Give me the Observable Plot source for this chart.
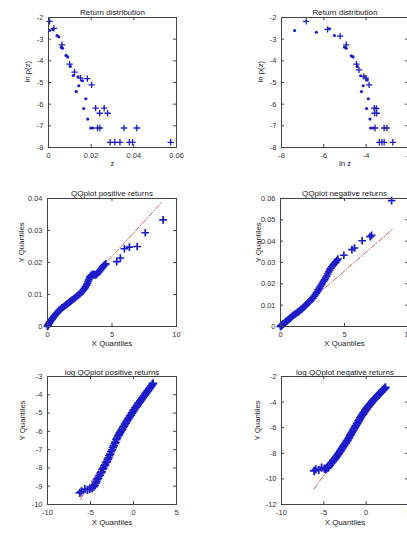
<!DOCTYPE html>
<html><head><meta charset="utf-8">
<script src="https://cdn.jsdelivr.net/npm/d3@7"></script>
<script src="https://cdn.jsdelivr.net/npm/@observablehq/plot@0.6"></script>
<style>
html,body{margin:0;padding:0;overflow:hidden;background:#fff;width:407px;height:537px}
#root{position:relative;width:407px;height:537px;overflow:hidden}
</style></head><body><div id="root"></div>
<script>
// ---------- Panel 1: Return distribution (z vs ln p(z)) ----------
const p1DotZ   = [0.0005,0.002,0.004,0.0048,0.006,0.0066,0.0082,0.009,0.0102,0.0116,0.0138,0.0159,0.0142,0.013,0.0175,0.0165,0.0184,0.0198,0.0207];
const p1DotLnP = [-2.6,-2.55,-2.83,-2.89,-3.38,-3.42,-3.75,-3.82,-4.26,-4.68,-4.74,-4.92,-5.15,-5.42,-5.75,-6.2,-6.69,-7.1,-7.1];
const p1PlusZ   = [0.0005,0.0025,0.0063,0.0099,0.0122,0.015,0.0182,0.0202,0.0221,0.0261,0.024,0.0277,0.023,0.0241,0.0354,0.0414,0.0289,0.0311,0.0335,0.0379,0.0394,0.0573];
const p1PlusLnP = [-2.18,-2.5,-3.26,-4.15,-4.52,-4.8,-4.82,-5.11,-6.18,-6.18,-6.42,-6.42,-7.1,-7.1,-7.1,-7.1,-7.76,-7.76,-7.76,-7.76,-7.76,-7.76];
const p1XTicks = [0,0.02,0.04,0.06];
const p1YTicks = [-8,-7,-6,-5,-4,-3,-2];

// ---------- Panel 2: Return distribution (ln z vs ln p(z)) ----------
const p2DotLnZ = [-7.38,-6.35,-5.74,-5.5,-5.02,-4.94,-4.7,-4.62,-4.42,-4.26,-3.95,-4.14,-4.22,-3.9,-3.98,-3.82,-3.79,-3.66];
const p2DotLnP = [-2.6,-2.68,-2.52,-2.83,-3.37,-3.42,-3.77,-3.82,-4.26,-4.69,-4.88,-5.15,-5.42,-5.75,-6.2,-6.69,-7.1,-7.1];
const p2PlusLnZ = [-6.83,-5.82,-5.23,-4.94,-4.46,-4.34,-4.11,-4.02,-3.86,-3.62,-3.5,-3.58,-3.15,-3.02,-3.38,-3.26,-3.15,-2.74,-3.52,-3.6];
const p2PlusLnP = [-2.18,-2.55,-2.86,-3.26,-4.15,-4.42,-4.72,-4.8,-5.11,-6.18,-6.42,-7.1,-7.1,-7.1,-7.76,-7.76,-7.76,-7.76,-6.2,-6.42];
const p2XTicks = [-8,-6,-4,-2];
const p2YTicks = [-8,-7,-6,-5,-4,-3,-2];

// ---------- Panel 3: QQplot positive returns ----------
const p3X = [0,0.02,0.05,0.08,0.12,0.16,0.2,0.25,0.3,0.36,
  0.42,0.5,0.58,0.66,0.75,0.84,0.93,1.02,1.12,1.22,
  1.32,1.42,1.52,1.62,1.72,1.82,1.92,2.02,2.12,2.22,
  2.32,2.42,2.52,2.62,2.72,2.8,2.88,2.95,3.02,3.08,
  3.14,3.2,3.26,3.32,3.4,3.48,3.56,3.64,3.72,3.8,
  3.88,3.96,4.04,4.12,4.2,4.28,4.36,4.44,4.52,
  5.37,5.65,5.96,6.35,6.95,7.58,8.96];
const p3Y = [0,0.0002,0.0004,0.0007,0.001,0.0013,0.0015,0.0018,0.0021,0.0024,
  0.0027,0.0031,0.0035,0.0039,0.0043,0.0047,0.0051,0.0054,0.0058,0.0061,
  0.0064,0.0067,0.0070,0.0073,0.0077,0.0080,0.0083,0.0086,0.0089,0.0093,
  0.0096,0.0099,0.0103,0.0107,0.0111,0.0115,0.0119,0.0124,0.0129,0.0134,
  0.0140,0.0146,0.0152,0.0157,0.0160,0.0162,0.0163,0.0162,0.0161,0.0163,
  0.0166,0.0170,0.0174,0.0178,0.0182,0.0187,0.0190,0.0193,0.0196,
  0.0203,0.0214,0.0243,0.0248,0.0250,0.0293,0.0333];
const p3LineX = [0, 8.9];
const p3LineY = [0, 0.039];
const p3XTicks = [0,5,10];
const p3YTicks = [0,0.01,0.02,0.03,0.04];

// ---------- Panel 4: QQplot negative returns ----------
const p4X = [0,0.02,0.05,0.08,0.12,0.16,0.2,0.25,0.3,0.36,
  0.42,0.5,0.58,0.66,0.75,0.84,0.93,1.02,1.12,1.22,
  1.32,1.42,1.52,1.62,1.72,1.82,1.92,2.02,2.12,2.22,
  2.32,2.42,2.52,2.62,2.72,2.8,2.88,2.96,3.04,3.12,
  3.2,3.28,3.36,3.44,3.52,3.6,3.68,3.76,3.84,3.92,
  4.0,4.08,4.16,4.24,4.32,4.4,4.48,
  4.95,5.58,5.78,6.38,7.0,7.12,8.68];
const p4Y = [0,0.0001,0.0003,0.0005,0.0007,0.0009,0.0011,0.0013,0.0016,0.0019,
  0.0022,0.0026,0.0030,0.0034,0.0039,0.0044,0.0049,0.0053,0.0057,0.0061,
  0.0066,0.0070,0.0075,0.0080,0.0085,0.0091,0.0097,0.0103,0.0109,0.0114,
  0.0120,0.0126,0.0133,0.0141,0.0149,0.0156,0.0164,0.0172,0.0180,0.0188,
  0.0196,0.0204,0.0212,0.0219,0.0227,0.0236,0.0246,0.0256,0.0265,0.0273,
  0.0280,0.0286,0.0291,0.0297,0.0302,0.0309,0.0316,
  0.0334,0.0360,0.0368,0.0402,0.0421,0.0427,0.0590];
const p4LineX = [0, 8.83];
const p4LineY = [0, 0.046];
const p4XTicks = [0,5,10];
const p4YTicks = [0,0.01,0.02,0.03,0.04,0.05,0.06];

// ---------- Panel 5: log QQplot positive returns ----------
const p5X = [-6.24,-6.05,-5.66,-5.35,-5.08,-4.82,-4.62,
  -4.5,-4.4,-4.3,-4.2,-4.1,-4.0,-3.9,-3.8,-3.7,-3.6,
  -3.5,-3.4,-3.3,-3.2,-3.1,-3.0,-2.9,-2.8,-2.7,-2.6,
  -2.5,-2.4,-2.3,-2.2,-2.1,-2.0,-1.9,-1.8,-1.7,-1.6,
  -1.5,-1.4,-1.3,-1.2,-1.1,-1.0,-0.9,-0.8,-0.7,-0.6,
  -0.5,-0.4,-0.3,-0.2,-0.1,0.0,0.1,0.2,0.3,0.4,
  0.5,0.6,0.7,0.8,0.9,1.0,1.1,1.2,1.3,1.4,
  1.5,1.6,1.7,1.8,1.9,2.0,2.1,2.2,2.28];
const p5Y = [-9.36,-9.28,-9.16,-9.2,-9.14,-9.1,-9.02,
  -8.95,-8.83,-8.74,-8.62,-8.56,-8.44,-8.39,-8.27,-8.21,-8.07,
  -8.01,-7.89,-7.83,-7.71,-7.65,-7.54,-7.45,-7.33,-7.25,-7.11,
  -7.01,-6.89,-6.79,-6.67,-6.59,-6.45,-6.37,-6.25,-6.19,-6.09,
  -6.03,-5.93,-5.87,-5.77,-5.71,-5.61,-5.55,-5.45,-5.39,-5.30,
  -5.25,-5.15,-5.11,-5.01,-4.96,-4.87,-4.81,-4.72,-4.67,-4.59,
  -4.54,-4.45,-4.41,-4.33,-4.28,-4.19,-4.15,-4.07,-4.02,-3.94,
  -3.89,-3.81,-3.77,-3.69,-3.64,-3.55,-3.51,-3.42,-3.38];
const p5LineX = [-6.15, 2.3];
const p5LineY = [-9.7, -3.35];
const p5XTicks = [-10,-5,0,5];
const p5YTicks = [-10,-9,-8,-7,-6,-5,-4,-3];

// ---------- Panel 6: log QQplot negative returns ----------
const p6X = [-6.15,-5.95,-5.6,-5.27,-4.95,-4.76,-4.6,
  -4.5,-4.4,-4.3,-4.2,-4.1,-4.0,-3.9,-3.8,-3.7,-3.6,
  -3.5,-3.4,-3.3,-3.2,-3.1,-3.0,-2.9,-2.8,-2.7,-2.6,
  -2.5,-2.4,-2.3,-2.2,-2.1,-2.0,-1.9,-1.8,-1.7,-1.6,
  -1.5,-1.4,-1.3,-1.2,-1.1,-1.0,-0.9,-0.8,-0.7,-0.6,
  -0.5,-0.4,-0.3,-0.2,-0.1,0.0,0.1,0.2,0.3,0.4,
  0.5,0.6,0.7,0.8,0.9,1.0,1.1,1.2,1.3,1.4,
  1.5,1.6,1.7,1.8,1.9,2.0,2.1,2.2,2.28];
const p6Y = [-9.38,-9.25,-9.3,-9.12,-9.2,-9.25,-9.15,
  -9.12,-9.02,-8.9,-8.83,-8.74,-8.68,-8.58,-8.51,-8.41,-8.35,
  -8.24,-8.17,-8.06,-7.98,-7.86,-7.78,-7.66,-7.58,-7.46,-7.37,
  -7.25,-7.18,-7.06,-6.98,-6.85,-6.75,-6.61,-6.51,-6.38,-6.29,
  -6.16,-6.06,-5.93,-5.84,-5.7,-5.6,-5.46,-5.37,-5.23,-5.14,
  -5.02,-4.94,-4.82,-4.74,-4.63,-4.56,-4.45,-4.38,-4.28,-4.22,
  -4.12,-4.06,-3.96,-3.9,-3.81,-3.76,-3.67,-3.62,-3.53,-3.48,
  -3.39,-3.34,-3.26,-3.2,-3.11,-3.06,-2.97,-2.93,-2.85];
const p6LineX = [-6.17, 2.3];
const p6LineY = [-10.8, -2.9];
const p6XTicks = [-10,-5,0,5];
const p6YTicks = [-12,-10,-8,-6,-4,-2];

// ---------- drawing ----------
const root = document.getElementById("root");
const FONT = '"Liberation Sans", Arial, Helvetica, sans-serif';
const INK = "#333";
const BLUE = "#1c1cc8";
const RED = "#cc6060";
const fmt = d => String(d);
const pts = (xs, ys) => xs.map((x, i) => ({x, y: ys[i]}));

const plusMark = (xs, ys, r = 2.2, sw = 1.3) => Plot.dot(pts(xs, ys), {x: "x", y: "y", symbol: "plus", r, stroke: BLUE, strokeWidth: sw});
const dotMark = (xs, ys) => Plot.dot(pts(xs, ys), {x: "x", y: "y", r: 1.6, fill: BLUE, stroke: "none"});
const qqLine = (xs, ys) => Plot.line(pts(xs, ys), {x: "x", y: "y", stroke: RED, strokeWidth: 1, strokeDasharray: "5,2,1,2"});

function panel(c) {
  const ml = 55, mr = 12, mt = 22, mb = 32;
  const fw = c.fx1 - c.fx0, fh = c.fy1 - c.fy0;
  const svg = Plot.plot({
    width: ml + fw + mr, height: mt + fh + mb,
    marginLeft: ml, marginRight: mr, marginTop: mt, marginBottom: mb,
    style: {fontFamily: FONT, fontSize: "7px", color: INK, background: "transparent", overflow: "visible"},
    x: {domain: c.xDomain},
    y: {domain: c.yDomain},
    marks: [
      ...c.marks,
      Plot.ruleX(c.xTicks, {x: d => d, insetTop: fh - 3, stroke: "#444"}),
      Plot.ruleX(c.xTicks, {x: d => d, insetBottom: fh - 3, stroke: "#444"}),
      Plot.ruleY(c.yTicks, {y: d => d, insetRight: fw - 3, stroke: "#444"}),
      Plot.ruleY(c.yTicks, {y: d => d, insetLeft: fw - 3, stroke: "#444"}),
      Plot.frame({stroke: "#444"}),
      Plot.axisX({anchor: "bottom", ticks: c.xTicks, tickSize: 0, tickPadding: 5, tickFormat: fmt, label: null, fontSize: 7.5}),
      Plot.axisY({anchor: "left", ticks: c.yTicks, tickSize: 0, tickPadding: 5, tickFormat: fmt, label: null, fontSize: 7.5}),
      Plot.text([c.title], {text: d => d, frameAnchor: "top", dy: c.titleDy, fill: "#222", fontSize: 8}),
      Plot.text([c.xLabel], {text: d => d, frameAnchor: "bottom", dy: c.xLabelDy, fill: "#222", fontSize: 7.8}),
      Plot.text([c.yLabel], {text: d => d, frameAnchor: "left", dx: c.yLabelDx, rotate: -90, fill: "#222", fontSize: 7.8})
    ]
  });
  svg.style.position = "absolute";
  svg.style.left = (c.fx0 - ml) + "px";
  svg.style.top = (c.fy0 - mt) + "px";
  root.append(svg);
}

panel({fx0: 48, fx1: 176, fy0: 17, fy1: 147, xDomain: [0, 0.06], yDomain: [-8, -2],
  xTicks: p1XTicks, yTicks: p1YTicks, title: "Return distribution", xLabel: "z", yLabel: "ln p(z)",
  titleDy: -8, xLabelDy: 18, yLabelDx: -21,
  marks: [dotMark(p1DotZ, p1DotLnP), plusMark(p1PlusZ, p1PlusLnP)]});

panel({fx0: 281, fx1: 408, fy0: 17, fy1: 147, xDomain: [-8, -2], yDomain: [-8, -2],
  xTicks: p2XTicks, yTicks: p2YTicks, title: "Return distribution", xLabel: "ln z", yLabel: "ln p(z)",
  titleDy: -8, xLabelDy: 18, yLabelDx: -21,
  marks: [dotMark(p2DotLnZ, p2DotLnP), plusMark(p2PlusLnZ, p2PlusLnP)]});

panel({fx0: 47, fx1: 176, fy0: 198, fy1: 326, xDomain: [0, 10], yDomain: [0, 0.04],
  xTicks: p3XTicks, yTicks: p3YTicks, title: "QQplot positive returns", xLabel: "X Quantiles", yLabel: "Y Quantiles",
  titleDy: -8, xLabelDy: 19, yLabelDx: -26,
  marks: [qqLine(p3LineX, p3LineY), plusMark(p3X, p3Y, 2.6, 1.7)]});

panel({fx0: 280, fx1: 408, fy0: 198, fy1: 326, xDomain: [0, 10], yDomain: [0, 0.06],
  xTicks: p4XTicks, yTicks: p4YTicks, title: "QQplot negative returns", xLabel: "X Quantiles", yLabel: "Y Quantiles",
  titleDy: -8, xLabelDy: 19, yLabelDx: -22,
  marks: [qqLine(p4LineX, p4LineY), plusMark(p4X, p4Y, 2.6, 1.7)]});

panel({fx0: 47, fx1: 176, fy0: 376, fy1: 504, xDomain: [-10, 5], yDomain: [-10, -3],
  xTicks: p5XTicks, yTicks: p5YTicks, title: "log QQplot positive returns", xLabel: "X Quantiles", yLabel: "Y Quantiles",
  titleDy: -7, xLabelDy: 20, yLabelDx: -25,
  marks: [qqLine(p5LineX, p5LineY), plusMark(p5X, p5Y, 2.8, 1.8)]});

panel({fx0: 281, fx1: 408, fy0: 376, fy1: 504, xDomain: [-10, 5], yDomain: [-12, -2],
  xTicks: p6XTicks, yTicks: p6YTicks, title: "log QQplot negative returns", xLabel: "X Quantiles", yLabel: "Y Quantiles",
  titleDy: -7, xLabelDy: 20, yLabelDx: -24,
  marks: [qqLine(p6LineX, p6LineY), plusMark(p6X, p6Y, 2.8, 1.8)]});
</script>
</body></html>
